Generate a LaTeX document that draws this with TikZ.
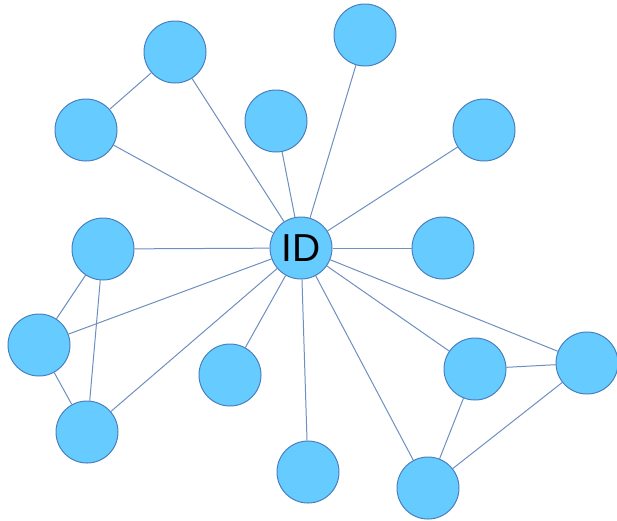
\documentclass[tikz,border=0pt]{standalone}
\usepackage{fontspec}
\setmainfont{Liberation Sans}
\definecolor{nodefill}{HTML}{66CCFF}
\definecolor{nodeline}{HTML}{4A80BE}
\definecolor{edgecol}{HTML}{6E8FC0}
\begin{document}
\begin{tikzpicture}[x=1pt,y=-1pt,
  dot/.style={circle,fill=nodefill,draw=nodeline,line width=1pt,minimum size=62pt,inner sep=0pt},
  link/.style={draw=edgecol,line width=1pt}]
\useasboundingbox (0,0) rectangle (617,520);
\node[dot] (id) at (301,248) {\fontsize{39}{42}\selectfont ID};
\node[dot] (n1) at (175,52) {};
\node[dot] (n2) at (86,130) {};
\node[dot] (n3) at (276,121) {};
\node[dot] (n4) at (365,35) {};
\node[dot] (n5) at (484,130) {};
\node[dot] (n6) at (443,248) {};
\node[dot] (n7) at (103,249) {};
\node[dot] (n8) at (39,345) {};
\node[dot] (n9) at (230,375) {};
\node[dot] (n10) at (87,432) {};
\node[dot] (n11) at (308,472) {};
\node[dot] (n12) at (475,369) {};
\node[dot] (n13) at (587,363) {};
\node[dot] (n14) at (428,488) {};
\foreach \n in {n1,n2,n3,n4,n5,n6,n7,n8,n9,n10,n11,n12,n13,n14}
  \draw[link] (id) -- (\n);
\draw[link] (n1) -- (n2);
\draw[link] (n7) -- (n8);
\draw[link] (n7) -- (n10);
\draw[link] (n8) -- (n10);
\draw[link] (n12) -- (n13);
\draw[link] (n12) -- (n14);
\draw[link] (n13) -- (n14);
\end{tikzpicture}
\end{document}
